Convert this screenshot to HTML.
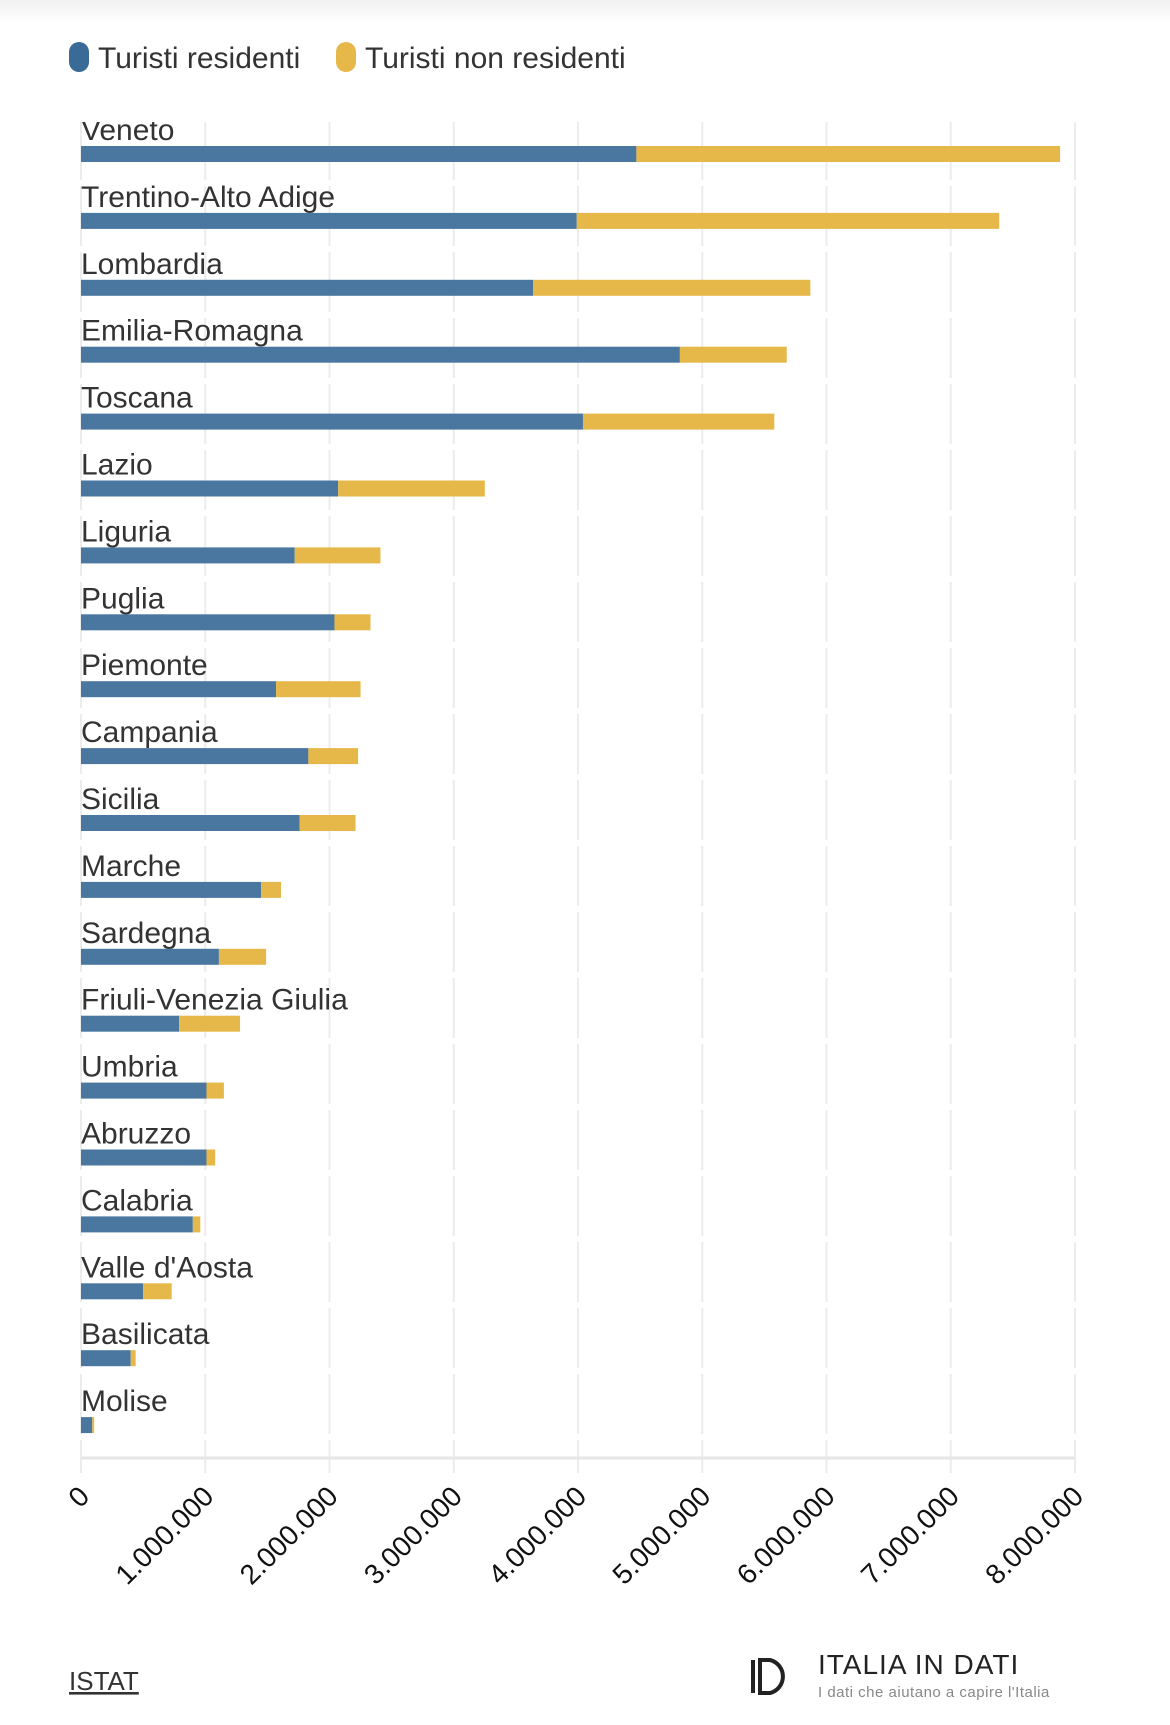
<!DOCTYPE html>
<html><head><meta charset="utf-8"><style>
html,body{margin:0;padding:0;background:#fff;width:1170px;height:1725px;overflow:hidden}
body{font-family:"Liberation Sans",sans-serif;position:relative}
.shadow{position:absolute;left:0;top:0;width:1170px;height:24px;background:linear-gradient(#f1f1f1,#fff)}
</style></head><body>
<div class="shadow"></div>
<svg id="chart" width="1170" height="1725" style="position:absolute;left:0;top:0">
 <g>
  <rect x="69" y="42" width="20" height="30" rx="10" fill="#3a6a96"/>
  <text x="98" y="68" font-size="30" fill="#333">Turisti residenti</text>
  <rect x="336" y="42" width="20" height="30" rx="10" fill="#e6b84a"/>
  <text x="365" y="68" font-size="30" fill="#333">Turisti non residenti</text>
 </g>
 <g id="grid"></g>
 <g id="bars"></g>
 <g id="ticks"></g>
 <text x="69" y="1690" font-size="26" fill="#333" text-decoration="underline">ISTAT</text>
 <g>
  <rect x="751" y="1660" width="4" height="33" fill="#222"/>
  <path d="M760 1660 h10 a17 17 0 0 1 0 33 h-10 z" fill="none" stroke="#222" stroke-width="4"/>
  <text x="818" y="1674" font-size="28" fill="#222" letter-spacing="1">ITALIA IN DATI</text>
  <text x="818" y="1697" font-size="15" fill="#888" letter-spacing="0.5">I dati che aiutano a capire l'Italia</text>
 </g>
</svg>
<script>
const regions = ["Veneto","Trentino-Alto Adige","Lombardia","Emilia-Romagna","Toscana","Lazio","Liguria","Puglia","Piemonte","Campania","Sicilia","Marche","Sardegna","Friuli-Venezia Giulia","Umbria","Abruzzo","Calabria","Valle d'Aosta","Basilicata","Molise"];
const residenti = [4470000,3990000,3640000,4820000,4040000,2070000,1720000,2040000,1570000,1830000,1760000,1450000,1110000,790000,1010000,1010000,900000,500000,400000,90000];
const nonResidenti = [3410000,3400000,2230000,860000,1540000,1180000,690000,290000,680000,400000,450000,160000,380000,490000,140000,70000,60000,230000,40000,16000];
const tickValues = [0,1000000,2000000,3000000,4000000,5000000,6000000,7000000,8000000];
const tickLabels = ["0","1.000.000","2.000.000","3.000.000","4.000.000","5.000.000","6.000.000","7.000.000","8.000.000"];

const NS="http://www.w3.org/2000/svg";
const x0=81, x1=1075, vmax=8000000;
const xs=v=>x0+(v/vmax)*(x1-x0);
const barTop=i=>146+i*66.9;
const barH=16;
function mk(tag,attrs,parent){const e=document.createElementNS(NS,tag);for(const k in attrs)e.setAttribute(k,attrs[k]);parent.appendChild(e);return e;}
const grid=document.getElementById('grid'),bars=document.getElementById('bars'),ticks=document.getElementById('ticks');
tickValues.forEach((v,i)=>{
  const gl=mk('line',{x1:xs(v),x2:xs(v),y1:120,y2:1473,stroke:'#ececec','stroke-width':2,'stroke-dasharray':'60 6'},grid);
  
  
  const t=mk('text',{x:0,y:0,'font-size':28,fill:'#111','text-anchor':'end',transform:`translate(${xs(v)+10},${1498}) rotate(-45)`},ticks);
  t.textContent=tickLabels[i];
  
  
});
const ax=mk('line',{x1:x0,x2:x1,y1:1458,y2:1458,stroke:'#e6e6e6','stroke-width':3},grid);


regions.forEach((r,i)=>{
  const y=barTop(i);
  const lab=mk('text',{x:x0,y:y-6,'font-size':30,fill:'#333'},bars);
  lab.textContent=r;
  
  
  const b1=mk('rect',{x:xs(0),y:y,width:xs(residenti[i])-xs(0),height:barH,fill:'#4a77a0'},bars);
  
  
  const b2=mk('rect',{x:xs(residenti[i]),y:y,width:xs(residenti[i]+nonResidenti[i])-xs(residenti[i]),height:barH,fill:'#e6b84a'},bars);
  
  
});
const cover=mk('rect',{x:0,y:100,width:1170,height:22,fill:'#fff'},bars);


</script>
</body></html>
